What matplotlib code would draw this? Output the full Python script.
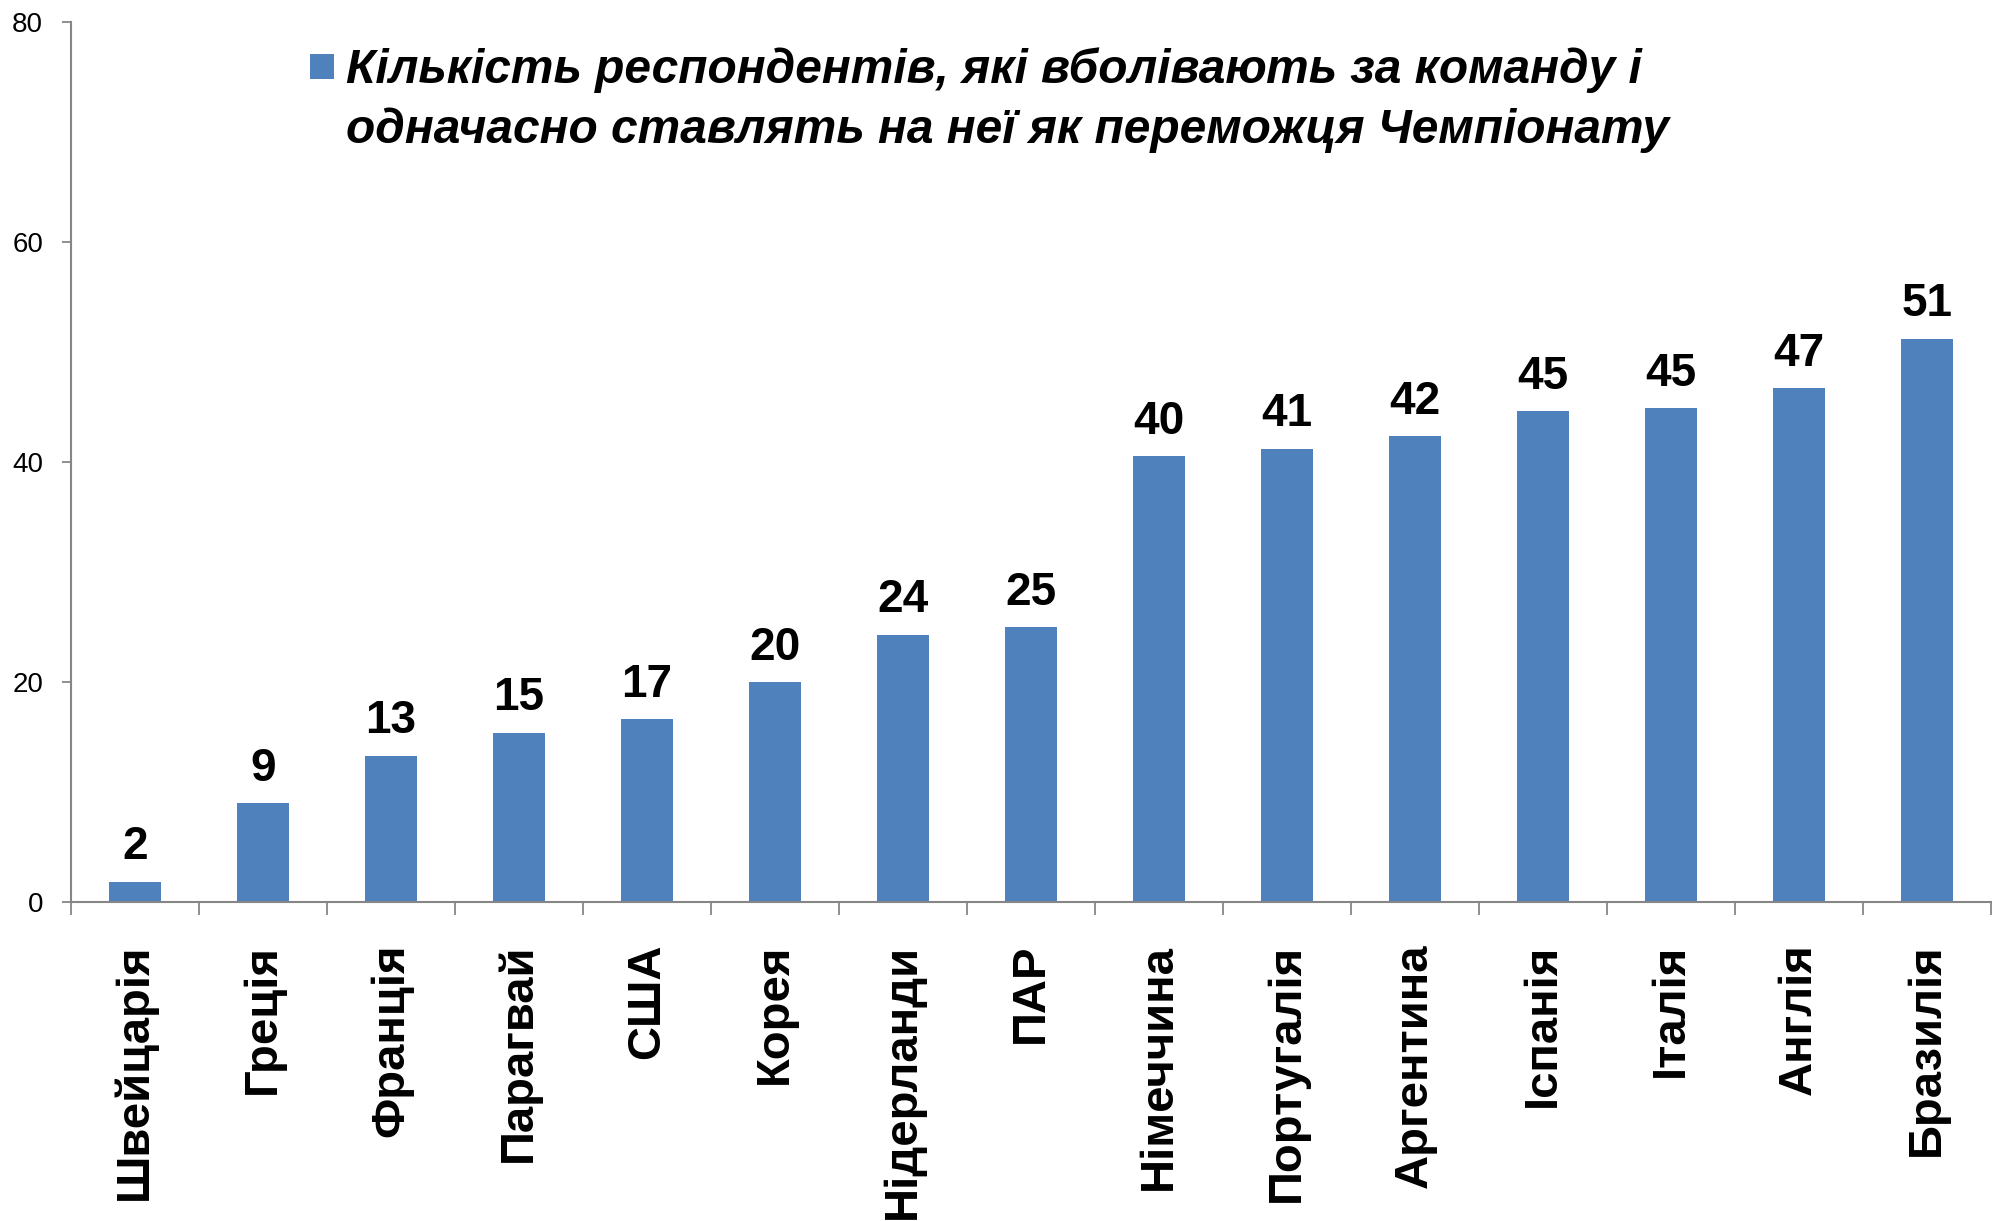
import matplotlib
matplotlib.use("Agg")
import matplotlib.pyplot as plt
from matplotlib.patches import Rectangle
import numpy as np

countries = ["Швейцарія", "Греція", "Франція", "Парагвай", "США", "Корея",
             "Нідерланди", "ПАР", "Німеччина", "Португалія", "Аргентина",
             "Іспанія", "Італія", "Англія", "Бразилія"]
values = [1.85, 9.0, 13.3, 15.4, 16.6, 20.0, 24.3, 25.0, 40.5, 41.2, 42.3,
          44.6, 44.9, 46.7, 51.2]
value_labels = ["2", "9", "13", "15", "17", "20", "24", "25", "40", "41", "42",
                "45", "45", "47", "51"]
yticks = [0, 20, 40, 60, 80]
legend_label = "Кількість респондентів, які вболівають за команду і\nодначасно ставлять на неї як переможця Чемпіонату"

BAR = "#4F81BD"
AXC = "#868686"
FONT = ["Liberation Sans", "DejaVu Sans"]
plt.rcParams["font.family"] = FONT

W, H = 1997, 1221
fig = plt.figure(figsize=(W / 100, H / 100), dpi=100)
ax = fig.add_axes([71 / W, 1 - 902 / H, (1991 - 71) / W, (902 - 21.6) / H])

x = np.arange(len(countries))
ax.bar(x, values, width=0.4, color=BAR, zorder=2)

for xi, v, lab in zip(x, values, value_labels):
    ax.annotate(lab, (xi, v), xytext=(0, 16), textcoords="offset points",
                ha="center", va="baseline", fontsize=33, fontweight="bold",
                color="black")

ax.set_xlim(-0.5, len(countries) - 0.5)
ax.set_ylim(0, 80)
ax.set_yticks(yticks)
ax.set_yticklabels([str(t) for t in yticks], fontsize=20)
ax.tick_params(axis="y", direction="out", length=6.5, width=1.3, color=AXC, pad=13.5)

ax.set_xticks(x)
ax.set_xticklabels(countries, rotation=90, fontsize=34, fontweight="bold",
                   ha="center", va="top")
ax.tick_params(axis="x", which="major", length=0, pad=30)
ax.set_xticks(np.arange(len(countries) + 1) - 0.5, minor=True)
ax.tick_params(axis="x", which="minor", direction="out", length=9.5, width=1.3, color=AXC)

for s in ["top", "right"]:
    ax.spines[s].set_visible(False)
for s in ["left", "bottom"]:
    ax.spines[s].set_color(AXC)
    ax.spines[s].set_linewidth(1.5)

# legend (square aligned to first line, as in the original)
fig.patches.append(Rectangle((309.5 / W, 1 - 79 / H), 24.5 / W, 24.5 / H,
                             transform=fig.transFigure, facecolor=BAR,
                             edgecolor="none"))
fig.text(346 / W, 1 - 100 / H, legend_label, fontsize=34.5, fontweight="bold",
         fontstyle="italic", ha="left", va="center", linespacing=1.4)

fig.savefig("out.png", dpi=100)
